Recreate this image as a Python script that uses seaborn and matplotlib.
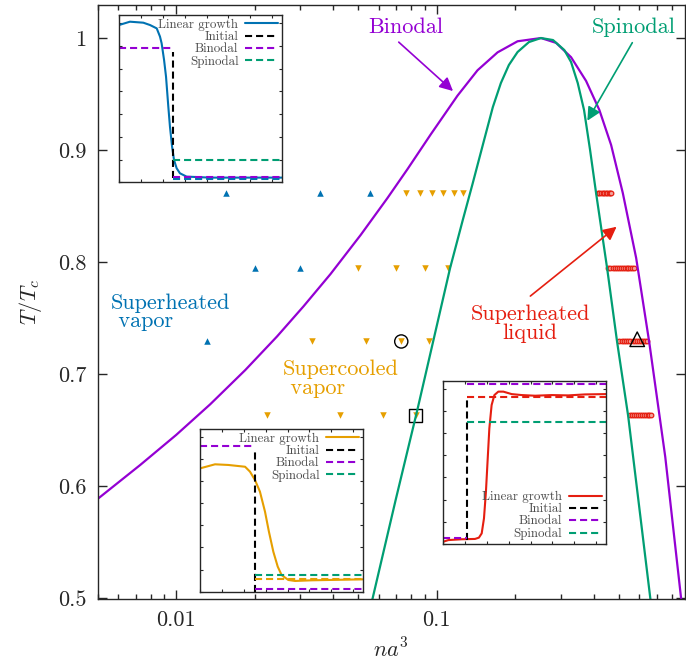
import numpy as np
import pandas as pd
import matplotlib
matplotlib.use("Agg")
import matplotlib.pyplot as plt
import seaborn as sns
from matplotlib.ticker import LogLocator, NullFormatter, FuncFormatter, MultipleLocator

# --- colours (gnuplot default palette) ---
PURPLE = "#9400d3"
GREEN = "#009e73"
BLUE = "#0072b2"
ORANGE = "#e69f00"
RED = "#e51e10"

# --- phase boundaries ---
binodal_n = [0.005, 0.007271, 0.01, 0.013513, 0.018424, 0.024393, 0.030799, 0.039113,
             0.051025, 0.064619, 0.077338, 0.094824, 0.12012, 0.1434, 0.1712, 0.2043, 0.2512,
             0.2870, 0.3277, 0.3742, 0.4209, 0.4669, 0.5177, 0.5825, 0.6537, 0.7534, 0.8679]
binodal_t = [0.5884, 0.6186, 0.6455, 0.6729, 0.7035, 0.7335, 0.7603, 0.7892,
             0.8240, 0.8569, 0.8831, 0.9139, 0.9485, 0.9712, 0.9872, 0.9971, 1.0,
             0.9957, 0.9829, 0.9617, 0.9357, 0.9045, 0.8616, 0.8036, 0.7286, 0.6259, 0.4982]

spinodal_n = [0.05657, 0.06957, 0.08427, 0.1125, 0.1259, 0.1372, 0.1520, 0.16422, 0.17627,
              0.18918, 0.2043, 0.2259, 0.2512,
              0.2794, 0.3087, 0.3277, 0.34764, 0.36758, 0.38768, 0.4088, 0.4506, 0.4923,
              0.5428, 0.6613]
spinodal_t = [0.4982, 0.5875, 0.6679, 0.7944, 0.8375, 0.8696, 0.9089, 0.9384, 0.9598,
              0.9759, 0.9875, 0.9964, 1.0,
              0.9982, 0.9893, 0.9786, 0.9598, 0.9357, 0.9000, 0.8616, 0.7946, 0.7286,
              0.6625, 0.4982]

# --- simulated state points ---
sh_vapor_n = [0.0156, 0.0356, 0.0557, 0.0200, 0.0300, 0.0131]
sh_vapor_t = [0.862, 0.862, 0.862, 0.795, 0.795, 0.729]

sc_vapor_n = [0.076, 0.086, 0.096, 0.106, 0.116, 0.126,
              0.050, 0.070, 0.090, 0.110,
              0.0333, 0.0533, 0.0731, 0.0933,
              0.0223, 0.0425, 0.0624, 0.083]
sc_vapor_t = [0.862] * 6 + [0.795] * 4 + [0.729] * 4 + [0.663] * 4

sh_liquid_n = [0.415, 0.421, 0.427, 0.433, 0.439, 0.445, 0.451, 0.457, 0.463, 0.468,
               0.455, 0.464, 0.473, 0.482, 0.491, 0.500, 0.508, 0.517, 0.526, 0.535,
               0.544, 0.553, 0.561, 0.570,
               0.501, 0.512, 0.522, 0.533, 0.544, 0.554, 0.565, 0.576, 0.587, 0.597,
               0.608, 0.619, 0.629, 0.640,
               0.554, 0.564, 0.574, 0.584, 0.594, 0.604, 0.615, 0.625, 0.635, 0.645,
               0.655, 0.665]
sh_liquid_t = [0.862] * 10 + [0.795] * 14 + [0.729] * 14 + [0.663] * 12

# highlighted points (circle, square, triangle)
circle_pt = (0.0731, 0.729)
square_pt = (0.083, 0.663)
triangle_pt = (0.588, 0.731)

# --- inset profiles (normalised coordinates) ---
blue_x = [0, 0.067, 0.149, 0.190, 0.231, 0.251, 0.261, 0.276, 0.288, 0.302, 0.312, 0.325,
          0.337, 0.353, 0.373, 0.414, 0.557, 1]
blue_y = [0.940, 0.960, 0.954, 0.940, 0.920, 0.871, 0.831, 0.731, 0.631, 0.452, 0.333, 0.213,
          0.133, 0.084, 0.054, 0.034, 0.028, 0.028]
blue_levels = dict(step=0.333, init=(0.024, 0.781), bin_left=0.801, bin_right=0.034,
                   spin=0.133, own=0.018)

orange_x = [0, 0.092, 0.173, 0.276, 0.306, 0.337, 0.367, 0.398, 0.422, 0.449, 0.476, 0.5,
            0.541, 0.582, 0.684, 0.786, 1]
orange_y = [0.758, 0.783, 0.779, 0.768, 0.738, 0.686, 0.615, 0.492, 0.369, 0.246, 0.154, 0.102,
            0.072, 0.066, 0.070, 0.072, 0.076]
orange_levels = dict(step=0.337, init=(0.0, 0.861), bin_left=0.898, bin_right=0.014,
                     spin=0.102, own=0.078)

red_x = [0, 0.031, 0.113, 0.195, 0.219, 0.236, 0.25, 0.262, 0.273, 0.283, 0.297, 0.314, 0.338,
         0.369, 0.420, 0.482, 0.564, 0.666, 0.768, 0.871, 1]
red_y = [0.014, 0.024, 0.029, 0.031, 0.039, 0.065, 0.157, 0.320, 0.524, 0.708, 0.851, 0.912,
         0.933, 0.933, 0.918, 0.912, 0.908, 0.912, 0.910, 0.916, 0.918]
red_levels = dict(step=0.148, init=(0.024, 0.902), bin_left=0.035, bin_right=0.980,
                  spin=0.745, own=0.902)

sns.set_style("ticks")
plt.rcParams["font.family"] = "serif"
plt.rcParams["font.serif"] = ["cmr10"]
plt.rcParams["mathtext.fontset"] = "cm"
plt.rcParams["axes.unicode_minus"] = False
plt.rcParams["axes.formatter.use_mathtext"] = True

DASH = (3.4, 1.9)


def draw_inset(fig, rect, color, px, py, lv, loc):
    ax = fig.add_axes(rect)
    sns.lineplot(x=px, y=py, sort=False, estimator=None, color=color, lw=1.5, ax=ax,
                 label="Linear growth")
    s = lv["step"]
    ax.plot([s, s], list(lv["init"]), color="black", lw=1.5, dashes=DASH, label="Initial")
    ax.plot([0, s], [lv["bin_left"]] * 2, color=PURPLE, lw=1.5, dashes=DASH, label="Binodal")
    ax.plot([s, 1], [lv["bin_right"]] * 2, color=PURPLE, lw=1.5, dashes=DASH)
    ax.plot([s, 1], [lv["spin"]] * 2, color=GREEN, lw=1.5, dashes=DASH, label="Spinodal")
    ax.plot([s, 1], [lv["own"]] * 2, color=color, lw=1.5, dashes=DASH)
    ax.set_xlim(0, 1)
    ax.set_ylim(0, 1)
    ax.xaxis.set_major_locator(MultipleLocator(0.134))
    ax.yaxis.set_major_locator(MultipleLocator(0.136))
    ax.tick_params(direction="in", length=2.5, width=0.8, top=True, right=True,
                   labelbottom=False, labelleft=False)
    for sp in ax.spines.values():
        sp.set_linewidth(1.0)
    ax.set_xlabel("")
    ax.set_ylabel("")
    handles, labels = ax.get_legend_handles_labels()
    ax.legend(handles[:4], labels[:4], loc=loc, frameon=False, markerfirst=False,
              fontsize=9.3, labelcolor="0.3", handlelength=2.6, labelspacing=0.0,
              handletextpad=0.5, borderaxespad=0.2, borderpad=0.1)
    return ax


fig = plt.figure(figsize=(6.86, 6.69), dpi=100)
ax = fig.add_axes([97.7 / 686, 1 - 599 / 669, (684.5 - 97.7) / 686, 594 / 669])
ax.set_xscale("log")

sns.lineplot(x=binodal_n, y=binodal_t, sort=False, estimator=None, color=PURPLE, lw=1.6, ax=ax)
sns.lineplot(x=spinodal_n, y=spinodal_t, sort=False, estimator=None, color=GREEN, lw=1.6, ax=ax)

pts_blue = pd.DataFrame({"n": sh_vapor_n, "t": sh_vapor_t})
pts_orange = pd.DataFrame({"n": sc_vapor_n, "t": sc_vapor_t})
pts_red = pd.DataFrame({"n": sh_liquid_n, "t": sh_liquid_t})
sns.scatterplot(data=pts_blue, x="n", y="t", marker="^", s=22, color=BLUE, linewidth=0, ax=ax)
sns.scatterplot(data=pts_orange, x="n", y="t", marker="v", s=22, color=ORANGE, linewidth=0, ax=ax)
sns.scatterplot(data=pts_red, x="n", y="t", marker="o", s=11, facecolor="#f3a29a",
                edgecolor=RED, linewidth=0.9, ax=ax)

ax.scatter(*circle_pt, marker="o", s=90, facecolor="none", edgecolor="black", linewidth=1.0)
ax.scatter(*square_pt, marker="s", s=90, facecolor="none", edgecolor="black", linewidth=1.0)
ax.scatter(*triangle_pt, marker="^", s=110, facecolor="none", edgecolor="black", linewidth=1.0)

ax.set_xlim(0.005, 0.893)
ax.set_ylim(0.499, 1.0295)
ax.set_xticks([0.01, 0.1])
ax.set_xticklabels(["0.01", "0.1"])
ax.xaxis.set_minor_locator(LogLocator(base=10, subs=np.arange(2, 10)))
ax.xaxis.set_minor_formatter(NullFormatter())
ax.set_yticks([0.5, 0.6, 0.7, 0.8, 0.9, 1.0])
ax.yaxis.set_major_formatter(FuncFormatter(lambda v, p: f"{v:g}"))
ax.tick_params(which="major", direction="in", length=6.5, width=1.0, top=True, right=True,
               labelsize=16, pad=8)
ax.tick_params(which="minor", direction="in", length=3.5, width=1.0, top=True, right=True)
for sp in ax.spines.values():
    sp.set_linewidth(1.0)
ax.set_xlabel("$na^3$", fontsize=16, labelpad=6)
ax.set_ylabel("$T/T_c$", fontsize=16, labelpad=10)

# annotations
ax.text(0.076, 1.010, "Binodal", color=PURPLE, fontsize=16, ha="center", va="center")
ax.annotate("", xy=(0.1176, 0.951), xytext=(0.0702, 0.998),
            arrowprops=dict(arrowstyle="-|>", color=PURPLE, lw=1.2, mutation_scale=20))
ax.text(0.569, 1.010, "Spinodal", color=GREEN, fontsize=16, ha="center", va="center")
ax.annotate("", xy=(0.374, 0.924), xytext=(0.570, 0.998),
            arrowprops=dict(arrowstyle="-|>", color=GREEN, lw=1.2, mutation_scale=20))
ax.text(0.00561, 0.755, "Superheated\n vapor", color=BLUE, fontsize=16, ha="left", va="center",
        linespacing=0.95)
ax.text(0.0257, 0.6955, "Supercooled\n vapor", color=ORANGE, fontsize=16, ha="left", va="center",
        linespacing=0.95)
ax.text(0.2287, 0.745, "Superheated\nliquid", color=RED, fontsize=16, ha="center", va="center",
        multialignment="center", linespacing=0.95)
ax.annotate("", xy=(0.4995, 0.833), xytext=(0.2244, 0.768),
            arrowprops=dict(arrowstyle="-|>", color=RED, lw=1.2, mutation_scale=20))

draw_inset(fig, [119 / 686, 1 - 182.3 / 669, 163.3 / 686, 167.3 / 669], BLUE,
           blue_x, blue_y, blue_levels, "upper right")
draw_inset(fig, [200 / 686, 1 - 591.7 / 669, 163.3 / 686, 162.7 / 669], ORANGE,
           orange_x, orange_y, orange_levels, "upper right")
draw_inset(fig, [443.3 / 686, 1 - 544 / 669, 162.7 / 686, 163.3 / 669], RED,
           red_x, red_y, red_levels, "lower right")

fig.savefig("out.png", dpi=100)
